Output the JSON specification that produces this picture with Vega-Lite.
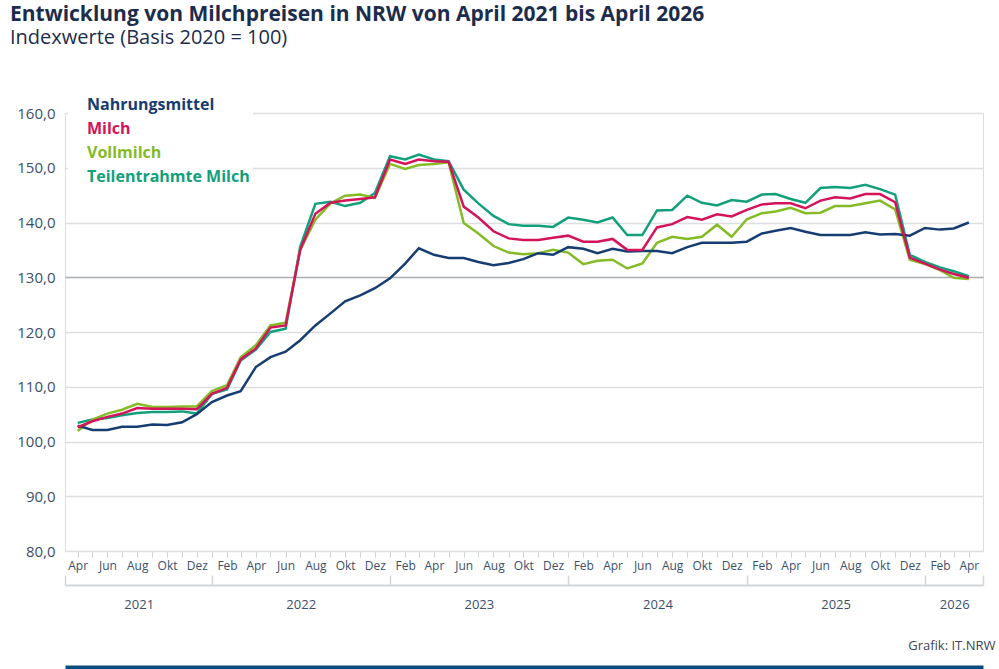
{
  "$schema": "https://vega.github.io/schema/vega-lite/v6.json",
  "description": "Entwicklung von Milchpreisen in NRW, Indexwerte 2020 = 100",
  "autosize": {"type": "none"},
  "padding": {"left": 65, "top": 113, "right": 16, "bottom": 118},
  "width": 918,
  "height": 438,
  "background": "white",
  "title": {
    "text": "Entwicklung von Milchpreisen in NRW von April 2021 bis April 2026",
    "subtitle": "Indexwerte (Basis 2020 = 100)",
    "anchor": "start",
    "frame": "group",
    "dx": -55,
    "offset": 46,
    "font": "Open Sans",
    "fontSize": 21,
    "fontWeight": "bold",
    "color": "#1c2c4c",
    "subtitleFont": "Open Sans",
    "subtitleFontSize": 20,
    "subtitleColor": "#1c2c4c",
    "subtitlePadding": 3
  },
  "data": {
    "values": [
      {"Monat": "2021-04-01", "Nahrungsmittel": 102.9, "Milch": 102.6, "Vollmilch": 101.9, "Teilentrahmte Milch": 103.4},
      {"Monat": "2021-05-01", "Nahrungsmittel": 102.1, "Milch": 103.7, "Vollmilch": 104.0, "Teilentrahmte Milch": 104.0},
      {"Monat": "2021-06-01", "Nahrungsmittel": 102.1, "Milch": 104.5, "Vollmilch": 105.1, "Teilentrahmte Milch": 104.3},
      {"Monat": "2021-07-01", "Nahrungsmittel": 102.7, "Milch": 105.1, "Vollmilch": 105.8, "Teilentrahmte Milch": 104.8},
      {"Monat": "2021-08-01", "Nahrungsmittel": 102.7, "Milch": 106.1, "Vollmilch": 106.9, "Teilentrahmte Milch": 105.2},
      {"Monat": "2021-09-01", "Nahrungsmittel": 103.1, "Milch": 106.0, "Vollmilch": 106.3, "Teilentrahmte Milch": 105.4},
      {"Monat": "2021-10-01", "Nahrungsmittel": 103.0, "Milch": 106.0, "Vollmilch": 106.3, "Teilentrahmte Milch": 105.4},
      {"Monat": "2021-11-01", "Nahrungsmittel": 103.5, "Milch": 106.0, "Vollmilch": 106.4, "Teilentrahmte Milch": 105.5},
      {"Monat": "2021-12-01", "Nahrungsmittel": 105.0, "Milch": 105.9, "Vollmilch": 106.4, "Teilentrahmte Milch": 105.1},
      {"Monat": "2022-01-01", "Nahrungsmittel": 107.2, "Milch": 108.7, "Vollmilch": 109.2, "Teilentrahmte Milch": 108.7},
      {"Monat": "2022-02-01", "Nahrungsmittel": 108.4, "Milch": 109.8, "Vollmilch": 110.3, "Teilentrahmte Milch": 109.5},
      {"Monat": "2022-03-01", "Nahrungsmittel": 109.2, "Milch": 115.0, "Vollmilch": 115.4, "Teilentrahmte Milch": 114.8},
      {"Monat": "2022-04-01", "Nahrungsmittel": 113.6, "Milch": 117.0, "Vollmilch": 117.6, "Teilentrahmte Milch": 116.8},
      {"Monat": "2022-05-01", "Nahrungsmittel": 115.4, "Milch": 120.8, "Vollmilch": 121.2, "Teilentrahmte Milch": 120.0},
      {"Monat": "2022-06-01", "Nahrungsmittel": 116.4, "Milch": 121.2, "Vollmilch": 121.7, "Teilentrahmte Milch": 120.6},
      {"Monat": "2022-07-01", "Nahrungsmittel": 118.5, "Milch": 135.0, "Vollmilch": 135.0, "Teilentrahmte Milch": 135.6},
      {"Monat": "2022-08-01", "Nahrungsmittel": 121.2, "Milch": 141.6, "Vollmilch": 140.5, "Teilentrahmte Milch": 143.4},
      {"Monat": "2022-09-01", "Nahrungsmittel": 123.4, "Milch": 143.6, "Vollmilch": 143.5, "Teilentrahmte Milch": 143.8},
      {"Monat": "2022-10-01", "Nahrungsmittel": 125.6, "Milch": 144.0, "Vollmilch": 144.9, "Teilentrahmte Milch": 143.0},
      {"Monat": "2022-11-01", "Nahrungsmittel": 126.7, "Milch": 144.3, "Vollmilch": 145.1, "Teilentrahmte Milch": 143.6},
      {"Monat": "2022-12-01", "Nahrungsmittel": 128.0, "Milch": 144.6, "Vollmilch": 144.5, "Teilentrahmte Milch": 145.4},
      {"Monat": "2023-01-01", "Nahrungsmittel": 129.8, "Milch": 151.5, "Vollmilch": 150.7, "Teilentrahmte Milch": 152.1},
      {"Monat": "2023-02-01", "Nahrungsmittel": 132.5, "Milch": 150.7, "Vollmilch": 149.8, "Teilentrahmte Milch": 151.5},
      {"Monat": "2023-03-01", "Nahrungsmittel": 135.3, "Milch": 151.5, "Vollmilch": 150.5, "Teilentrahmte Milch": 152.4},
      {"Monat": "2023-04-01", "Nahrungsmittel": 134.1, "Milch": 151.2, "Vollmilch": 150.7, "Teilentrahmte Milch": 151.5},
      {"Monat": "2023-05-01", "Nahrungsmittel": 133.5, "Milch": 151.1, "Vollmilch": 151.0, "Teilentrahmte Milch": 151.2},
      {"Monat": "2023-06-01", "Nahrungsmittel": 133.5, "Milch": 142.9, "Vollmilch": 139.9, "Teilentrahmte Milch": 146.0},
      {"Monat": "2023-07-01", "Nahrungsmittel": 132.8, "Milch": 140.9, "Vollmilch": 138.0, "Teilentrahmte Milch": 143.5},
      {"Monat": "2023-08-01", "Nahrungsmittel": 132.2, "Milch": 138.4, "Vollmilch": 135.7, "Teilentrahmte Milch": 141.2},
      {"Monat": "2023-09-01", "Nahrungsmittel": 132.6, "Milch": 137.1, "Vollmilch": 134.5, "Teilentrahmte Milch": 139.7},
      {"Monat": "2023-10-01", "Nahrungsmittel": 133.3, "Milch": 136.8, "Vollmilch": 134.2, "Teilentrahmte Milch": 139.4},
      {"Monat": "2023-11-01", "Nahrungsmittel": 134.4, "Milch": 136.8, "Vollmilch": 134.4, "Teilentrahmte Milch": 139.4},
      {"Monat": "2023-12-01", "Nahrungsmittel": 134.1, "Milch": 137.2, "Vollmilch": 135.0, "Teilentrahmte Milch": 139.2},
      {"Monat": "2024-01-01", "Nahrungsmittel": 135.5, "Milch": 137.6, "Vollmilch": 134.5, "Teilentrahmte Milch": 140.9},
      {"Monat": "2024-02-01", "Nahrungsmittel": 135.2, "Milch": 136.5, "Vollmilch": 132.4, "Teilentrahmte Milch": 140.5},
      {"Monat": "2024-03-01", "Nahrungsmittel": 134.4, "Milch": 136.5, "Vollmilch": 133.0, "Teilentrahmte Milch": 140.0},
      {"Monat": "2024-04-01", "Nahrungsmittel": 135.2, "Milch": 137.0, "Vollmilch": 133.2, "Teilentrahmte Milch": 140.9},
      {"Monat": "2024-05-01", "Nahrungsmittel": 134.7, "Milch": 135.0, "Vollmilch": 131.6, "Teilentrahmte Milch": 137.7},
      {"Monat": "2024-06-01", "Nahrungsmittel": 134.8, "Milch": 135.0, "Vollmilch": 132.5, "Teilentrahmte Milch": 137.7},
      {"Monat": "2024-07-01", "Nahrungsmittel": 134.8, "Milch": 139.1, "Vollmilch": 136.3, "Teilentrahmte Milch": 142.2},
      {"Monat": "2024-08-01", "Nahrungsmittel": 134.4, "Milch": 139.7, "Vollmilch": 137.4, "Teilentrahmte Milch": 142.3},
      {"Monat": "2024-09-01", "Nahrungsmittel": 135.5, "Milch": 141.0, "Vollmilch": 137.0, "Teilentrahmte Milch": 144.9},
      {"Monat": "2024-10-01", "Nahrungsmittel": 136.3, "Milch": 140.5, "Vollmilch": 137.4, "Teilentrahmte Milch": 143.6},
      {"Monat": "2024-11-01", "Nahrungsmittel": 136.3, "Milch": 141.5, "Vollmilch": 139.6, "Teilentrahmte Milch": 143.1},
      {"Monat": "2024-12-01", "Nahrungsmittel": 136.3, "Milch": 141.1, "Vollmilch": 137.4, "Teilentrahmte Milch": 144.1},
      {"Monat": "2025-01-01", "Nahrungsmittel": 136.5, "Milch": 142.3, "Vollmilch": 140.6, "Teilentrahmte Milch": 143.8},
      {"Monat": "2025-02-01", "Nahrungsmittel": 138.0, "Milch": 143.3, "Vollmilch": 141.7, "Teilentrahmte Milch": 145.1},
      {"Monat": "2025-03-01", "Nahrungsmittel": 138.5, "Milch": 143.5, "Vollmilch": 142.0, "Teilentrahmte Milch": 145.2},
      {"Monat": "2025-04-01", "Nahrungsmittel": 139.0, "Milch": 143.5, "Vollmilch": 142.7, "Teilentrahmte Milch": 144.3},
      {"Monat": "2025-05-01", "Nahrungsmittel": 138.3, "Milch": 142.6, "Vollmilch": 141.7, "Teilentrahmte Milch": 143.6},
      {"Monat": "2025-06-01", "Nahrungsmittel": 137.7, "Milch": 144.0, "Vollmilch": 141.8, "Teilentrahmte Milch": 146.3},
      {"Monat": "2025-07-01", "Nahrungsmittel": 137.7, "Milch": 144.6, "Vollmilch": 143.0, "Teilentrahmte Milch": 146.5},
      {"Monat": "2025-08-01", "Nahrungsmittel": 137.7, "Milch": 144.4, "Vollmilch": 143.0, "Teilentrahmte Milch": 146.3},
      {"Monat": "2025-09-01", "Nahrungsmittel": 138.2, "Milch": 145.2, "Vollmilch": 143.5, "Teilentrahmte Milch": 146.9},
      {"Monat": "2025-10-01", "Nahrungsmittel": 137.8, "Milch": 145.2, "Vollmilch": 144.0, "Teilentrahmte Milch": 146.1},
      {"Monat": "2025-11-01", "Nahrungsmittel": 137.9, "Milch": 143.7, "Vollmilch": 142.4, "Teilentrahmte Milch": 145.1},
      {"Monat": "2025-12-01", "Nahrungsmittel": 137.6, "Milch": 133.6, "Vollmilch": 133.2, "Teilentrahmte Milch": 134.1},
      {"Monat": "2026-01-01", "Nahrungsmittel": 139.0, "Milch": 132.5, "Vollmilch": 132.4, "Teilentrahmte Milch": 132.8},
      {"Monat": "2026-02-01", "Nahrungsmittel": 138.7, "Milch": 131.4, "Vollmilch": 131.3, "Teilentrahmte Milch": 131.8},
      {"Monat": "2026-03-01", "Nahrungsmittel": 138.9, "Milch": 130.6, "Vollmilch": 129.9, "Teilentrahmte Milch": 131.1},
      {"Monat": "2026-04-01", "Nahrungsmittel": 140.0, "Milch": 129.9, "Vollmilch": 129.7, "Teilentrahmte Milch": 130.2}
    ]
  },
  "transform": [
    {"fold": ["Teilentrahmte Milch", "Vollmilch", "Nahrungsmittel", "Milch"], "as": ["Reihe", "Wert"]}
  ],
  "resolve": {"axis": {"x": "independent"}},
  "layer": [
    {
      "mark": {"type": "line", "strokeWidth": 2.5},
      "encoding": {
        "x": {
          "field": "Monat",
          "type": "temporal",
          "scale": {"type": "utc", "domain": [{"year": 2021, "month": 3, "date": 6, "utc": true}, {"year": 2026, "month": 4, "date": 30, "utc": true}]},
          "axis": {
            "title": null,
            "grid": false,
            "domain": false,
            "tickCount": {"interval": "month", "step": 1},
            "tickSize": 6,
            "tickColor": "#cfd3d8",
            "tickWidth": 1,
            "labelPadding": 3,
            "labelFont": "Open Sans",
            "labelFontSize": 12,
            "labelColor": "#3b4f6b",
            "labelOverlap": false,
            "labelFlush": false,
            "labelExpr": "utcmonth(datum.value) % 2 === 1 ? ['Jan','Feb','Mär','Apr','Mai','Jun','Jul','Aug','Sep','Okt','Nov','Dez'][utcmonth(datum.value)] : ''"
          }
        },
        "y": {
          "field": "Wert",
          "type": "quantitative",
          "scale": {"domain": [80, 160], "nice": false, "zero": false},
          "axis": {
            "title": null,
            "values": [80, 90, 100, 110, 120, 130, 140, 150, 160],
            "domain": false,
            "ticks": false,
            "labelPadding": 10,
            "labelFont": "Open Sans",
            "labelFontSize": 15,
            "labelColor": "#3b4f6b",
            "labelExpr": "replace(format(datum.value, '.1f'), '.', ',')",
            "gridColor": {"condition": {"test": "datum.value === 130", "value": "#a9adb2"}, "value": "#dcdee0"},
            "gridWidth": 1.5
          }
        },
        "color": {
          "field": "Reihe",
          "type": "nominal",
          "scale": {
            "domain": ["Nahrungsmittel", "Milch", "Vollmilch", "Teilentrahmte Milch"],
            "range": ["#163d72", "#d3145a", "#84bb26", "#12a07c"]
          },
          "legend": {
            "orient": "none",
            "legendX": 3,
            "legendY": -19,
            "title": null,
            "fillColor": "white",
            "padding": 3,
            "rowPadding": 8,
            "labelFont": "Open Sans",
            "labelFontSize": 16,
            "labelFontWeight": "bold",
            "labelLimit": 400,
            "labelOffset": 0,
            "symbolType": "square",
            "symbolSize": 1,
            "symbolOpacity": 0,
            "symbolStrokeWidth": 0,
            "encode": {"labels": {"update": {"fill": {"scale": "color", "field": "value"}}}}
          }
        }
      }
    },
    {
      "mark": {"type": "point", "opacity": 0},
      "encoding": {
        "x": {
          "field": "Monat",
          "type": "temporal",
          "scale": {"type": "utc", "domain": [{"year": 2021, "month": 3, "date": 6, "utc": true}, {"year": 2026, "month": 4, "date": 30, "utc": true}]},
          "axis": {
            "orient": "bottom",
            "offset": 34,
            "grid": false,
            "domain": false,
            "ticks": false,
            "tickSize": 0,
            "values": [
              {"year": 2021, "month": 8, "date": 4, "utc": true},
              {"year": 2022, "month": 7, "date": 2, "utc": true},
              {"year": 2023, "month": 7, "date": 2, "utc": true},
              {"year": 2024, "month": 7, "date": 2, "utc": true},
              {"year": 2025, "month": 7, "date": 2, "utc": true},
              {"year": 2026, "month": 3, "date": 2, "utc": true}
            ],
            "labelExpr": "utcFormat(datum.value, '%Y')",
            "labelPadding": 13,
            "labelFont": "Open Sans",
            "labelFontSize": 13,
            "labelColor": "#3b4f6b",
            "labelOverlap": false,
            "labelFlush": false,
            "title": "Grafik: IT.NRW",
            "titleFont": "Open Sans",
            "titleFontSize": 13,
            "titleFontWeight": "normal",
            "titleColor": "#3a4656",
            "titleAnchor": "end",
            "titleAlign": "right",
            "titleBaseline": "middle",
            "titleX": 930,
            "titleY": 60
          }
        }
      }
    },
    {
      "mark": {"type": "point", "opacity": 0},
      "encoding": {
        "x": {
          "field": "Monat",
          "type": "temporal",
          "scale": {"type": "utc", "domain": [{"year": 2021, "month": 3, "date": 6, "utc": true}, {"year": 2026, "month": 4, "date": 30, "utc": true}]},
          "axis": {
            "orient": "bottom",
            "offset": 34,
            "grid": false,
            "domain": true,
            "domainColor": "#d3d6da",
            "domainWidth": 2,
            "ticks": true,
            "tickSize": -10,
            "tickColor": "#d3d6da",
            "tickWidth": 1.5,
            "labels": false,
            "title": null,
            "values": [
              {"year": 2021, "month": 3, "date": 6, "utc": true},
              {"year": 2022, "month": 1, "date": 1, "utc": true},
              {"year": 2023, "month": 1, "date": 1, "utc": true},
              {"year": 2024, "month": 1, "date": 1, "utc": true},
              {"year": 2025, "month": 1, "date": 1, "utc": true},
              {"year": 2026, "month": 1, "date": 1, "utc": true},
              {"year": 2026, "month": 4, "date": 30, "utc": true}
            ]
          }
        }
      }
    },
    {
      "mark": {"type": "point", "opacity": 0},
      "encoding": {
        "x": {
          "field": "Monat",
          "type": "temporal",
          "scale": {"type": "utc", "domain": [{"year": 2021, "month": 3, "date": 6, "utc": true}, {"year": 2026, "month": 4, "date": 30, "utc": true}]},
          "axis": {
            "orient": "bottom",
            "offset": 116,
            "grid": false,
            "domain": true,
            "domainColor": "#0b4c7f",
            "domainWidth": 4,
            "ticks": false,
            "labels": false,
            "title": null
          }
        }
      }
    }
  ]
}
